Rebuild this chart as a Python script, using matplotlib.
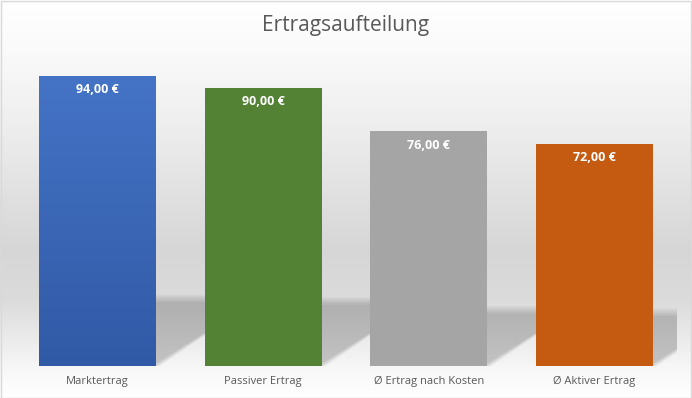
import numpy as np
import matplotlib
matplotlib.use("Agg")
import matplotlib.pyplot as plt
from matplotlib.colors import LinearSegmentedColormap
from matplotlib.patches import Polygon, Rectangle

categories = ["Marktertrag", "Passiver Ertrag", "Ø Ertrag nach Kosten", "Ø Aktiver Ertrag"]
values = [94, 90, 76, 72]
value_labels = ["94,00 €", "90,00 €", "76,00 €", "72,00 €"]
colors = ["#4472c4", "#548235", "#a5a5a5", "#c55a11"]

W, H = 692, 398
fig = plt.figure(figsize=(W / 100, H / 100), dpi=100)
fig.patch.set_facecolor("white")

# chart-area background: vertical gradient (Excel style)
bg = fig.add_axes([0, 0, 1, 1], zorder=0)
bg.set_axis_off()
stops = [(0.0, "#ffffff"), (50 / H, "#fafafa"), (120 / H, "#efefef"),
         (250 / H, "#d6d6d6"), (300 / H, "#dbdbdb"), (340 / H, "#ebebeb"),
         (372 / H, "#f8f8f8"), (1.0, "#ffffff")]
cmap = LinearSegmentedColormap.from_list("bg", stops)
grad = np.linspace(0, 1, 400).reshape(-1, 1)
bg.imshow(grad, cmap=cmap, aspect="auto", extent=[0, 1, 0, 1], origin="upper")
bg.set_xlim(0, 1)
bg.set_ylim(0, 1)
bg.add_patch(Rectangle((0.5 / W, 0.5 / H), 1 - 1.5 / W, 1 - 1.5 / H,
                       fill=False, ec="#d9d9d9", lw=1))

left, right = 14.6 / W, 677.4 / W
ax = fig.add_axes([left, 32 / H, right - left, 309 / H], zorder=1)
ax.patch.set_alpha(0)

width = 0.706
x = np.arange(len(values))

# perspective shadows behind the bars
for xi, v in zip(x, values):
    x0, x1 = xi - width / 2, xi + width / 2
    for k in range(6):
        st = 0.2 * v + 3 + (k - 2.5) * 0.5
        dx = st * 0.0283
        ax.add_patch(Polygon([(x0, 0), (x1 + 0.01 * (k - 2.5), 0),
                              (x1 + dx, st), (x0 + dx, st)],
                             closed=True, fc="black", ec="none",
                             alpha=0.035, zorder=1))

bars = ax.bar(x, values, width=width, color=colors, zorder=2)

# blue bar has a light top-to-bottom gradient
b0 = bars[0]
gcm = LinearSegmentedColormap.from_list("blue", ["#4573c6", "#315aa6"])
im = ax.imshow(np.linspace(0, 1, 200).reshape(-1, 1), cmap=gcm, aspect="auto",
               extent=[b0.get_x(), b0.get_x() + width, 0, values[0]],
               origin="upper", zorder=3)
im.set_clip_path(b0)
ax.set_xlim(-0.5, len(values) - 0.5)
ax.set_ylim(0, 100)

for xi, v, lab in zip(x, values, value_labels):
    ax.text(xi, v - 4.5, lab, ha="center", va="center", color="white",
            fontsize=9, fontweight="bold", family="Open Sans", zorder=4)

ax.set_xticks(x)
ax.set_xticklabels(categories, fontsize=8, color="#595959", family="Open Sans")
ax.tick_params(axis="x", length=0, pad=7)
ax.set_yticks([])
for s in ax.spines.values():
    s.set_visible(False)

fig.text(0.5, 1 - 25 / H, "Ertragsaufteilung", ha="center", va="center",
         fontsize=15, color="#595959", family="Open Sans")

fig.savefig("out.png", dpi=100)
